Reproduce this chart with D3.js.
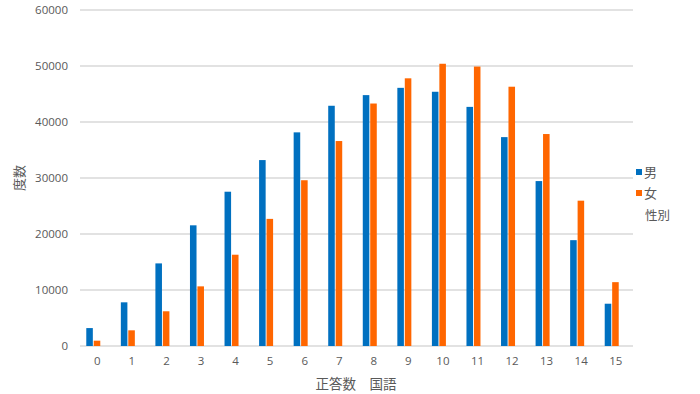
<!DOCTYPE html>
<html>
<head>
    <meta charset="utf-8" />
    <title>正答数 国語</title>
    <script src="https://cdn.jsdelivr.net/npm/d3@7"></script>
    <style>
        html, body { margin: 0; padding: 0; background: #fff; }
        text { font-family: "Open Sans", "Noto Sans CJK JP", sans-serif; fill: #595959; }
    </style>
</head>
<body>
<script>
    var width = 700;
    var height = 394;

    var categories = ['0','1','2','3','4','5','6','7','8','9','10','11','12','13','14','15'];
    var seriesNames = ['男', '女'];
    var male   = [3200, 7800, 14750, 21550, 27550, 33200, 38150, 42900, 44800, 46100, 45400, 42700, 37300, 29450, 18900, 7550];
    var female = [950, 2800, 6200, 10650, 16300, 22700, 29600, 36600, 43300, 47800, 50400, 49900, 46300, 37850, 25950, 11400];
    var yTicks = [0, 10000, 20000, 30000, 40000, 50000, 60000];
    var colors = ['#0070C0', '#FF6600'];

    var margin = {left: 80, right: 67, top: 10, bottom: 48};
    var svg = d3.select('body').append('svg').attr('width', width).attr('height', height);

    var x = d3.scaleBand().domain(categories).range([margin.left, width - margin.right]);
    var xInner = d3.scaleBand().domain(seriesNames).range([0, 14]).paddingInner(0.12);
    var y = d3.scaleLinear().domain([0, 60000]).range([height - margin.bottom, margin.top]);

    // gridlines
    svg.append('g').selectAll('line').data(yTicks).enter().append('line')
        .attr('x1', margin.left).attr('x2', width - margin.right)
        .attr('y1', function(d){ return y(d); }).attr('y2', function(d){ return y(d); })
        .attr('stroke', '#d9d9d9').attr('stroke-width', 1.3);

    // y labels
    var yAxis = svg.append('g').attr('transform', 'translate(' + (margin.left - 12) + ',0)')
        .call(d3.axisLeft(y).tickValues(yTicks).tickSize(0).tickPadding(0).tickFormat(d3.format('d')));
    yAxis.select('.domain').remove();
    yAxis.selectAll('text').style('font-size', '11.5px').style('font-family', '"Open Sans", sans-serif').attr('fill', '#595959');

    // x labels
    var xAxis = svg.append('g').attr('transform', 'translate(0,' + y(0) + ')')
        .call(d3.axisBottom(x).tickSize(0).tickPadding(11));
    xAxis.select('.domain').remove();
    xAxis.selectAll('text').style('font-size', '11.5px').style('font-family', '"Open Sans", sans-serif').attr('fill', '#595959');

    // bars (slightly left of the label centre like the original)
    var gBars = svg.append('g').attr('transform', 'translate(-4,0)');
    var rows = categories.map(function(c, i){ return {cat: c, vals: [male[i], female[i]]}; });
    var groups = gBars.selectAll('.grp').data(rows).enter().append('g')
        .attr('transform', function(d){ return 'translate(' + (x(d.cat) + x.bandwidth() / 2 - 7) + ',0)'; });
    groups.selectAll('rect').data(function(d){ return d.vals; }).enter().append('rect')
        .attr('x', function(d, i){ return xInner(seriesNames[i]); })
        .attr('width', xInner.bandwidth())
        .attr('y', function(d){ return y(d); })
        .attr('height', function(d){ return y(0) - y(d); })
        .attr('fill', function(d, i){ return colors[i]; });

    // axis titles
    svg.append('text').attr('transform', 'translate(24,178) rotate(-90)')
        .attr('text-anchor', 'middle').style('font-size', '13px')
        .style('font-family', '"Noto Sans CJK JP", sans-serif').text('度数');
    svg.append('text').attr('x', 356).attr('y', 389)
        .attr('text-anchor', 'middle').style('font-size', '13.5px')
        .style('font-family', '"Noto Sans CJK JP", sans-serif')
        .text('正答数\u3000国語');

    // legend
    var legend = svg.append('g').attr('transform', 'translate(636,172)');
    var items = legend.selectAll('g').data(seriesNames).enter().append('g')
        .attr('transform', function(d, i){ return 'translate(0,' + (i * 21) + ')'; });
    items.append('rect').attr('x', 0).attr('y', -3).attr('width', 6).attr('height', 6)
        .attr('fill', function(d, i){ return colors[i]; });
    items.append('text').attr('x', 8).attr('dy', '0.36em').style('font-size', '13px')
        .style('font-family', '"Noto Sans CJK JP", sans-serif').text(function(d){ return d; });
    legend.append('text').attr('x', 9).attr('y', 43).attr('dy', '0.36em').style('font-size', '12.5px')
        .style('font-family', '"Noto Sans CJK JP", sans-serif').text('性別');
</script>
</body>
</html>
